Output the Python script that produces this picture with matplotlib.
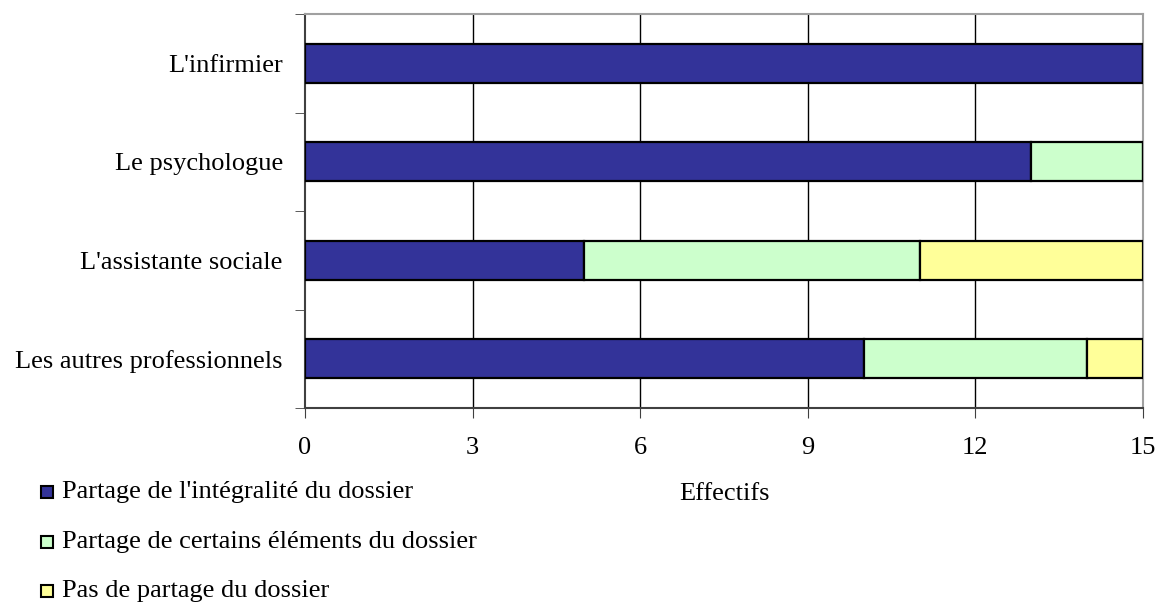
import matplotlib.pyplot as plt
import numpy as np
from matplotlib.patches import Rectangle

plt.rcParams['font.family'] = ['Liberation Serif', 'DejaVu Serif']

categories = ["L'infirmier", "Le psychologue", "L'assistante sociale", "Les autres professionnels"]
integralite = [15, 13, 5, 10]
certains = [0, 2, 6, 4]
pas_partage = [0, 0, 4, 1]
series_labels = ["Partage de l'intégralité du dossier",
                 "Partage de certains éléments du dossier",
                 "Pas de partage du dossier"]
colors = ['#333399', '#CCFFCC', '#FFFF99']
xticks = [0, 3, 6, 9, 12, 15]

fs = 19
fig = plt.figure(figsize=(11.59, 6.05), dpi=100)
ax = fig.add_axes([305/1159, 1 - 408/605, (1143-305)/1159, (408-14)/605])

y = np.arange(len(categories))
left = np.zeros(len(categories))
for vals, col in zip([integralite, certains, pas_partage], colors):
    vals = np.array(vals, dtype=float)
    ax.barh(y, vals, left=left, height=0.4, color=col, edgecolor='black',
            linewidth=1.6, zorder=3)
    left += vals

ax.set_xlim(0, 15)
ax.set_ylim(len(categories) - 0.5, -0.5)
ax.set_xticks(xticks)
ax.set_xticklabels([str(t) for t in xticks], fontsize=fs)
ax.set_yticks(y)
ax.set_yticklabels(categories, fontsize=fs)
ax.tick_params(axis='y', length=0, pad=16)
ax.set_yticks(np.arange(-0.5, len(categories), 1), minor=True)
ax.tick_params(axis='y', which='minor', length=7, direction='out', color='#404040')
ax.tick_params(axis='x', length=7, direction='out', color='#404040', pad=14)

for t in xticks[1:-1]:
    ax.axvline(t, color='black', linewidth=1, zorder=1)

ax.spines['left'].set_color('#404040')
ax.spines['bottom'].set_color('#404040')
ax.spines['top'].set_color('#a0a0a0')
ax.spines['right'].set_color('#a0a0a0')
for s in ax.spines.values():
    s.set_linewidth(1.5)

fig.text(724/1159, 1 - 494/605, 'Effectifs', fontsize=fs, ha='center', va='center')

ys = [492, 542, 591]
for lab, col, yy in zip(series_labels, colors, ys):
    fig.patches.append(Rectangle((41/1159, 1 - (yy + 6)/605), 12/1159, 12/605,
                                 transform=fig.transFigure, facecolor=col,
                                 edgecolor='black', linewidth=1.5))
    fig.text(62/1159, 1 - yy/605, lab, fontsize=fs, ha='left', va='center')

fig.savefig('out.png', dpi=100)
